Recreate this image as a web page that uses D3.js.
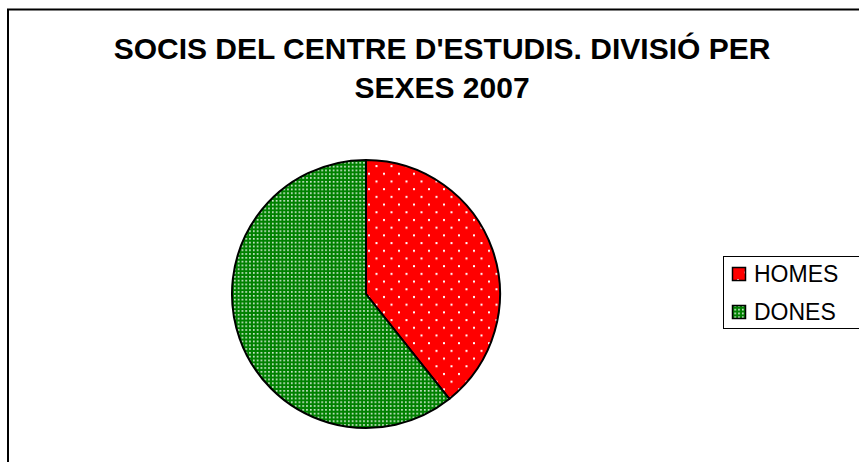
<!DOCTYPE html>
<html>
<head>
<meta charset="utf-8">
<script src="https://cdn.jsdelivr.net/npm/d3@7"></script>
<style>
  html, body { margin: 0; padding: 0; background: #fff; }
  svg { display: block; }
</style>
</head>
<body>
<svg id="chart" width="859" height="462"></svg>
<script>
const titleLines = ["SOCIS DEL CENTRE D'ESTUDIS. DIVISIÓ PER", "SEXES 2007"];
const categories = ["HOMES", "DONES"];
const values = [35, 54];
const colors = ["#ff0000", "#008000"];

const svg = d3.select("#chart");
const defs = svg.append("defs");

// red pattern: sparse staggered white dots
const pRed = defs.append("pattern").attr("id", "pat0")
  .attr("patternUnits", "userSpaceOnUse").attr("width", 15).attr("height", 15.4);
pRed.append("rect").attr("width", 15).attr("height", 15.4).attr("fill", colors[0]);
pRed.append("rect").attr("x", 2).attr("y", 2).attr("width", 2).attr("height", 2).attr("fill", "#fff");
pRed.append("rect").attr("x", 9.5).attr("y", 9.7).attr("width", 2).attr("height", 2).attr("fill", "#fff");

// green pattern: dense white dots
const pGreen = defs.append("pattern").attr("id", "pat1")
  .attr("patternUnits", "userSpaceOnUse").attr("width", 3.8).attr("height", 3.8);
pGreen.append("rect").attr("width", 3.8).attr("height", 3.8).attr("fill", colors[1]);
pGreen.append("rect").attr("x", 1).attr("y", 1).attr("width", 1.6).attr("height", 1.6).attr("fill", "#e8f4e8");

// outer frame
svg.append("rect").attr("x", 8).attr("y", 9.5).attr("width", 860).attr("height", 470)
  .attr("fill", "#fff").attr("stroke", "#000").attr("stroke-width", 2);

// title
const title = svg.append("text")
  .attr("text-anchor", "middle")
  .attr("font-family", "Liberation Sans, Arial, sans-serif")
  .attr("font-weight", "bold")
  .attr("font-size", 30)
  .attr("fill", "#000");
titleLines.forEach((t, i) => {
  title.append("tspan").attr("x", 442).attr("y", 59 + i * 39).text(t);
});

// pie
const cx = 366, cy = 294, r = 134;
const pie = d3.pie().sort(null).value(d => d)(values);
const arc = d3.arc().innerRadius(0).outerRadius(r);
const g = svg.append("g").attr("transform", `translate(${cx},${cy})`);
g.selectAll("path").data(pie).join("path")
  .attr("d", arc)
  .attr("fill", (d, i) => `url(#pat${i})`)
  .attr("stroke", "#000")
  .attr("stroke-width", 2)
  .attr("stroke-linejoin", "round");

// legend
const lg = svg.append("g");
lg.append("rect").attr("x", 723.5).attr("y", 256.5).attr("width", 150).attr("height", 72)
  .attr("fill", "#fff").attr("stroke", "#000").attr("stroke-width", 1);
const ly = d3.scalePoint().domain(categories).range([274, 312]);
categories.forEach((c, i) => {
  lg.append("rect").attr("x", 732.5).attr("y", ly(c) - 6.5).attr("width", 13).attr("height", 13)
    .attr("fill", `url(#pat${i})`).attr("stroke", "#000").attr("stroke-width", 1.5);
  lg.append("text").attr("x", 754).attr("y", ly(c) + 8)
    .attr("font-family", "Liberation Sans, Arial, sans-serif")
    .attr("font-size", 23)
    .attr("fill", "#000")
    .text(c);
});
</script>
</body>
</html>
